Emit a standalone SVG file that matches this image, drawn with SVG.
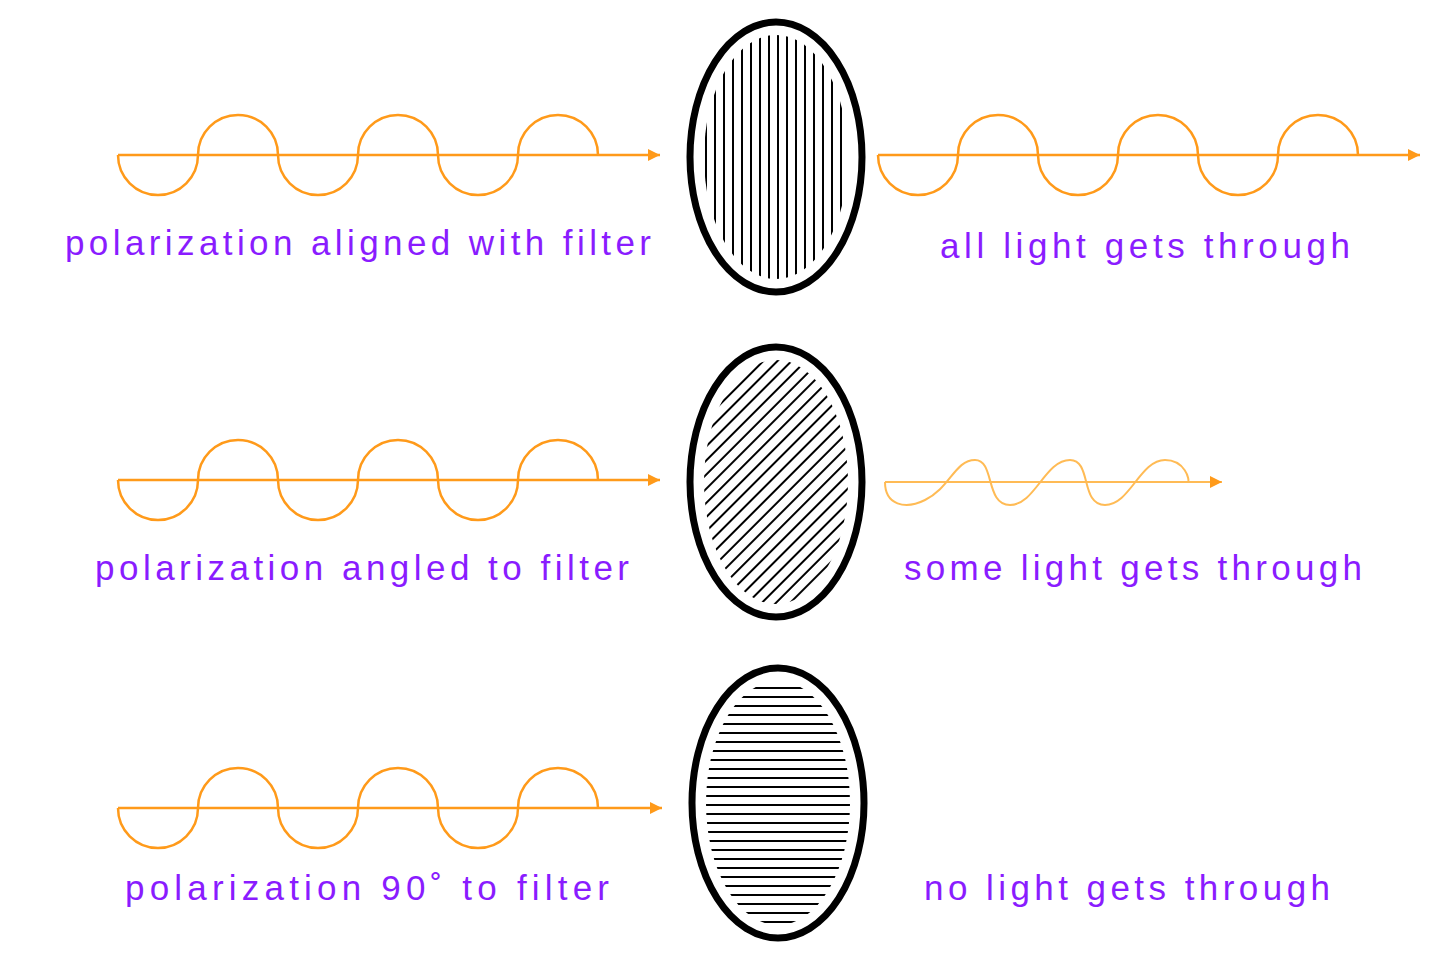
<svg xmlns="http://www.w3.org/2000/svg" width="1440" height="960" viewBox="0 0 1440 960">
<style>
.w{fill:none;stroke:#ff9a1a;stroke-width:2.5}
.wl{fill:none;stroke:#ffbb55;stroke-width:2}
.t{font-family:"Comic Sans MS","Liberation Sans",sans-serif;font-size:35px;fill:#8a1cff;text-anchor:middle}
.e{fill:#fff;stroke:#000;stroke-width:7}
.h{stroke:#000;stroke-width:2}
</style>
<defs>
<marker id="a" viewBox="0 0 10 10" refX="10" refY="5" markerWidth="10" markerHeight="6" markerUnits="userSpaceOnUse" orient="auto"><path d="M0,0L10,5L0,10z" fill="#ff9a1a"/></marker>
<marker id="a2" viewBox="0 0 10 10" refX="10" refY="5" markerWidth="30" markerHeight="12" orient="auto" markerUnits="userSpaceOnUse"><path d="M0,0L10,5L0,10z" fill="#ff9a1a"/></marker>
<pattern id="pv" width="9" height="10" patternUnits="userSpaceOnUse"><line x1="4" y1="0" x2="4" y2="10" class="h"/></pattern>
<pattern id="ph" width="10" height="9" patternUnits="userSpaceOnUse"><line x1="0" y1="4" x2="10" y2="4" class="h"/></pattern>
<pattern id="pd" width="10" height="10" patternUnits="userSpaceOnUse" patternTransform="rotate(45)"><line x1="5" y1="0" x2="5" y2="10" class="h"/></pattern>
</defs>
<g id="connectors">
<path class="w" d="M118,155 A40,40 0 0 0 198,155 A40,40 0 0 1 278,155 A40,40 0 0 0 358,155 A40,40 0 0 1 438,155 A40,40 0 0 0 518,155 A40,40 0 0 1 598,155"/>
<line class="w" x1="118" y1="155" x2="660" y2="155" marker-end="url(#a2)"/>
<path class="w" d="M878,155 A40,40 0 0 0 958,155 A40,40 0 0 1 1038,155 A40,40 0 0 0 1118,155 A40,40 0 0 1 1198,155 A40,40 0 0 0 1278,155 A40,40 0 0 1 1358,155"/>
<line class="w" x1="878" y1="155" x2="1420" y2="155" marker-end="url(#a2)"/>
<path class="w" d="M118,480 A40,40 0 0 0 198,480 A40,40 0 0 1 278,480 A40,40 0 0 0 358,480 A40,40 0 0 1 438,480 A40,40 0 0 0 518,480 A40,40 0 0 1 598,480"/>
<line class="w" x1="118" y1="480" x2="660" y2="480" marker-end="url(#a2)"/>
<path class="wl" d="M885,482 C885,505 905,510 925,500 C950,488 955,460 975,460 C995,460 985,505 1010,505 C1035,505 1045,460 1070,460 C1092,460 1080,505 1105,505 C1130,505 1140,460 1165,460 C1185,460 1190,480 1188,482"/>
<line class="wl" x1="885" y1="482" x2="1222" y2="482" marker-end="url(#a2)"/>
<path class="w" d="M118,808 A40,40 0 0 0 198,808 A40,40 0 0 1 278,808 A40,40 0 0 0 358,808 A40,40 0 0 1 438,808 A40,40 0 0 0 518,808 A40,40 0 0 1 598,808"/>
<line class="w" x1="118" y1="808" x2="662" y2="808" marker-end="url(#a2)"/>
</g>
<g id="filter1"><ellipse class="e" cx="776" cy="157" rx="86" ry="135"/><ellipse cx="776" cy="157" rx="72" ry="122" fill="url(#pv)"/></g>
<g id="filter2"><ellipse class="e" cx="776" cy="482" rx="86" ry="135"/><ellipse cx="776" cy="482" rx="72" ry="122" fill="url(#pd)"/></g>
<g id="filter3"><ellipse class="e" cx="778" cy="803" rx="86" ry="135"/><ellipse cx="778" cy="803" rx="72" ry="122" fill="url(#ph)"/></g>
<g id="labels">
<text class="t" x="358" y="255" textLength="586">polarization aligned with filter</text>
<text class="t" x="1145" y="258" textLength="410">all light gets through</text>
<text class="t" x="362" y="580" textLength="534">polarization angled to filter</text>
<text class="t" x="1133" y="580" textLength="458">some light gets through</text>
<text class="t" x="367" y="900" textLength="484">polarization 90˚ to filter</text>
<text class="t" x="1127" y="900" textLength="406">no light gets through</text>
</g>
</svg>
